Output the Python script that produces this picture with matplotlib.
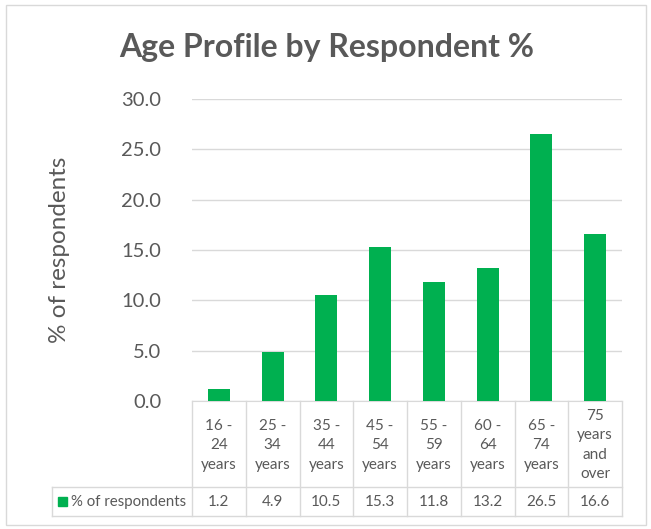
"""Age profile by respondent % - Excel-style column chart with data table."""
import matplotlib.pyplot as plt
from matplotlib.transforms import blended_transform_factory
from matplotlib.patches import Rectangle

categories = ["16 -\n24\nyears", "25 -\n34\nyears", "35 -\n44\nyears", "45 -\n54\nyears",
              "55 -\n59\nyears", "60 -\n64\nyears", "65 -\n74\nyears", "75\nyears\nand\nover"]
values = [1.2, 4.9, 10.5, 15.3, 11.8, 13.2, 26.5, 16.6]
series_name = "% of respondents"
y_ticks = [0, 5, 10, 15, 20, 25, 30]

GREEN = "#00B050"
TEXT = "#595959"
LINE = "#D9D9D9"
W, H = 651, 529

plt.rcParams["font.family"] = ["Lato", "DejaVu Sans"]

fig = plt.figure(figsize=(W / 100, H / 100), dpi=100)

# overlay in pixel coordinates for frame and table lines
pix = fig.add_axes([0, 0, 1, 1])
pix.set_xlim(0, W)
pix.set_ylim(H, 0)
pix.axis("off")
pix.add_patch(Rectangle((5.5, 4.5), 640, 520, fill=False, edgecolor=LINE, lw=1))

ax_l, ax_r, ax_t, ax_b = 192, 622, 99, 401
ax = fig.add_axes([ax_l / W, 1 - ax_b / H, (ax_r - ax_l) / W, (ax_b - ax_t) / H])
x = range(len(values))
ax.bar(x, values, width=0.41, color=GREEN, zorder=3)
ax.set_xlim(-0.5, len(values) - 0.5)
ax.set_ylim(0, 30)
ax.set_yticks(y_ticks)
ax.set_yticklabels([f"{v:.1f}" for v in y_ticks], fontsize=14.5, color=TEXT)
ax.tick_params(axis="y", length=0, pad=22)
ax.set_xticks([])
ax.grid(axis="y", color=LINE, lw=1, zorder=0)
for s in ["top", "right", "left"]:
    ax.spines[s].set_visible(False)
ax.spines["bottom"].set_color(LINE)
ax.patch.set_alpha(0)

fig.text(60 / W, 1 - 250 / H, series_name, rotation=90, ha="center", va="center",
         fontsize=17.5, color=TEXT)
fig.text(327 / W, 1 - 47 / H, "Age Profile by Respondent %", ha="center", va="center",
         fontsize=23, fontweight="bold", color=TEXT)

# data table below the axis
row1_b, row2_b, tab_left = 487, 516, 52
tr = blended_transform_factory(ax.transData, pix.transData)
n = len(values)
for i in range(n + 1):
    pix.plot([i - 0.5, i - 0.5], [ax_b, row2_b], color=LINE, lw=1, transform=tr)
pix.plot([tab_left, ax_r], [row1_b, row1_b], color=LINE, lw=1)
pix.plot([tab_left, ax_r], [row2_b, row2_b], color=LINE, lw=1)
pix.plot([tab_left, tab_left], [row1_b, row2_b], color=LINE, lw=1)
for i, (c, v) in enumerate(zip(categories, values)):
    pix.text(i, 445, c, ha="center", va="center", fontsize=11, color=TEXT,
             linespacing=1.5, transform=tr)
    pix.text(i, 502, f"{v:.1f}", ha="center", va="center", fontsize=11, color=TEXT,
             transform=tr)
pix.add_patch(Rectangle((58, 497), 9, 9, color=GREEN))
pix.text(71, 502, series_name, ha="left", va="center", fontsize=10.8, color=TEXT)

fig.savefig("out.png", dpi=100)
